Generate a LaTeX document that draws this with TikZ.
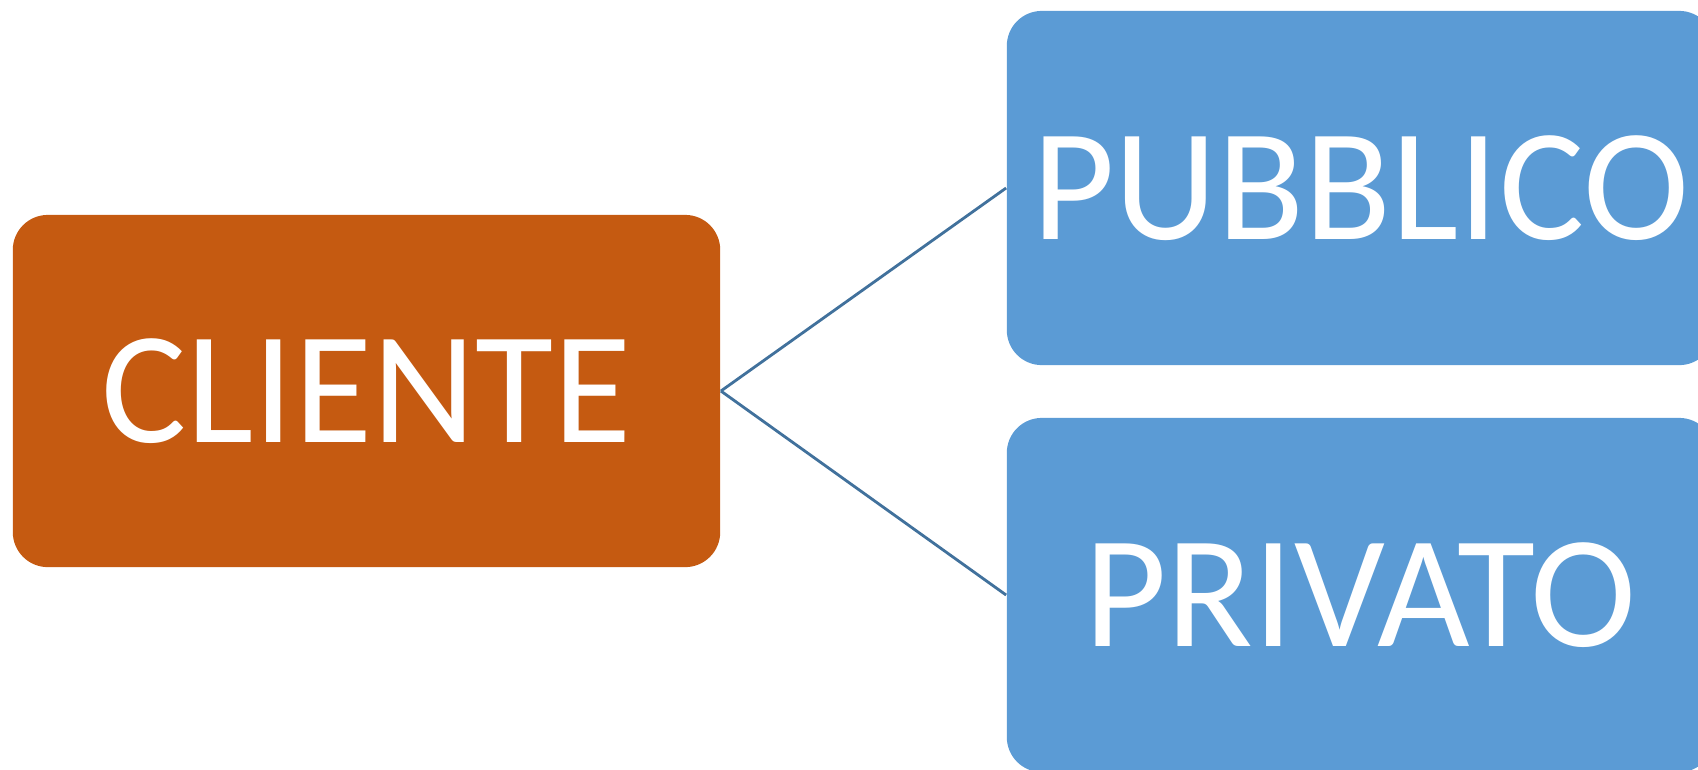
\documentclass[tikz,border=0pt]{standalone}
\usepackage{fontspec}
\setmainfont{Carlito}
\usepackage{tikz}
\definecolor{clienteorange}{HTML}{C55A11}
\definecolor{tipoblue}{HTML}{5B9BD5}
\definecolor{linkblue}{HTML}{41719C}
\tikzset{ % Common look of the boxes
	tipobox/.style={
		rectangle, rounded corners=0.35cm,
		minimum width=7.07cm, minimum height=3.54cm,
		text=white, inner sep=0pt,
		font=\fontsize{45.5pt}{50pt}\selectfont,
		text height=29.3pt, text depth=0pt
	},
	link/.style={linkblue, line width=0.8pt}
}
\begin{document}
\begin{tikzpicture}[x=0.01cm, y=-0.01cm]
		\useasboundingbox (0,0) rectangle (1698,769);
		\clip (0,0) rectangle (1698,769);
		% Boxes
		\node [tipobox, fill=clienteorange, minimum height=3.52cm] (cliente) at (366.5,391) {CLIENTE};
		\node [tipobox, fill=tipoblue] (pubblico) at (1360.5,188) {PUBBLICO};
		\node [tipobox, fill=tipoblue] (privato) at (1360.5,595) {PRIVATO};
		% Links
		\draw [link] (cliente.east) -- (pubblico.west);
		\draw [link] (cliente.east) -- (privato.west);
\end{tikzpicture}
\end{document}
